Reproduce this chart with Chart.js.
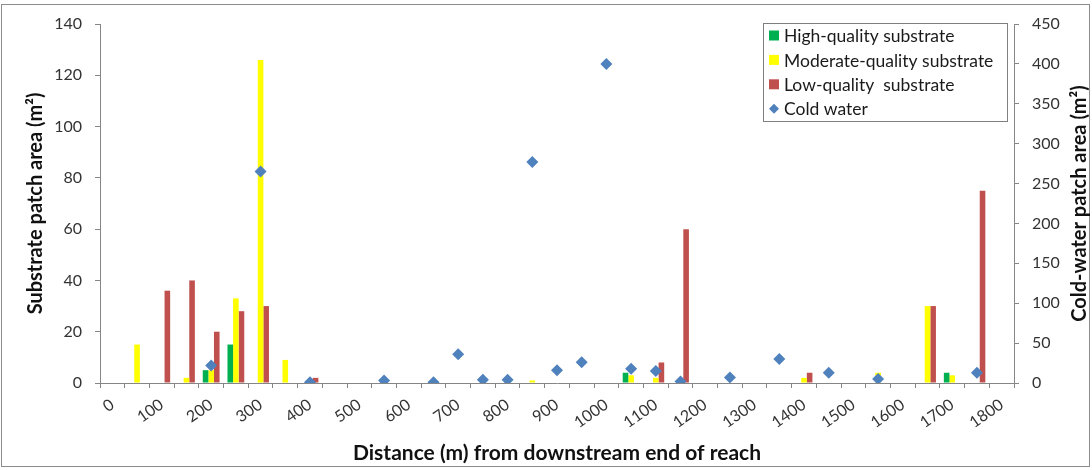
<!DOCTYPE html>
<html><head><meta charset="utf-8">
<script src="https://cdn.jsdelivr.net/npm/chart.js@4.4.1/dist/chart.umd.min.js"></script>
<style>html,body{margin:0;padding:0;background:#fff;}#wrap{width:1092px;height:470px;position:relative;}</style>
</head><body><div id="wrap"><canvas id="c" width="1092" height="470"></canvas></div>
<script>
// Distance categories (m), one every 50 m
const distances = [0,50,100,150,200,250,300,350,400,450,500,550,600,650,700,750,800,850,900,950,1000,1050,1100,1150,1200,1250,1300,1350,1400,1450,1500,1550,1600,1650,1700,1750,1800];
// Labels shown on the axis
const tickLabels = ['0','100','200','300','400','500','600','700','800','900','1000','1100','1200','1300','1400','1500','1600','1700','1800'];
// Substrate patch area (m²)
const highQuality =     [null,null,null,null,5,15,null,null,null,null,null,null,null,null,null,null,null,null,null,null,null,4,null,null,null,null,null,null,null,null,null,null,null,null,4,null,null];
const moderateQuality = [null,15,null,2,5,33,126,9,null,null,null,null,null,null,null,null,null,1,null,null,null,3,2,null,null,null,null,null,2,null,null,4,null,30,3,null,null];
const lowQuality =      [null,null,36,40,20,28,30,null,2,null,null,null,null,null,null,null,null,null,null,null,null,null,8,60,null,null,null,null,4,null,null,null,null,30,null,75,null];
// Cold-water patch area (m²)
const coldWater =       [null,null,null,null,22,null,265,null,1,null,null,3,null,1,36,4,4,277,16,26,400,18,15,2,null,7,null,30,null,13,null,5,null,null,null,13,null];
const seriesNames = ['High-quality substrate','Moderate-quality substrate','Low-quality  substrate','Cold water'];
const seriesColors = ['#00B050','#FFFF00','#C0504D','#4F81BD'];
const axisTitles = { x: 'Distance (m) from downstream end of reach', y: 'Substrate patch area (m²)', y2: 'Cold-water patch area (m²)' };

const FONT = 'Lato, "Open Sans", sans-serif';
Chart.defaults.font.family = FONT;
Chart.defaults.color = '#333333';

const frame = {
  id: 'frame',
  beforeDraw(chart) {
    const ctx = chart.ctx;
    ctx.save();
    ctx.fillStyle = '#fff';
    ctx.fillRect(0, 0, chart.width, chart.height);
    ctx.strokeStyle = '#8c8c8c';
    ctx.lineWidth = 1;
    ctx.strokeRect(1.5, 4.5, chart.width - 4, chart.height - 8);
    ctx.restore();
  }
};

// right-axis title reading bottom-to-top, as in the reference
const rightTitle = {
  id: 'rightTitle',
  afterDraw(chart) {
    const ctx = chart.ctx, a = chart.chartArea;
    ctx.save();
    ctx.translate(chart.width - 12, (a.top + a.bottom) / 2);
    ctx.rotate(-Math.PI / 2);
    ctx.font = 'bold 20px ' + FONT;
    ctx.fillStyle = '#111';
    ctx.textAlign = 'center';
    ctx.textBaseline = 'middle';
    ctx.fillText(axisTitles.y2, 0, 0);
    ctx.restore();
  }
};

const boxLegend = {
  id: 'boxLegend',
  afterDraw(chart) {
    const ctx = chart.ctx, a = chart.chartArea;
    const x0 = a.right - 251, y0 = a.top - 1, w = 244, h = 98;
    ctx.save();
    ctx.fillStyle = '#fff';
    ctx.fillRect(x0, y0, w, h);
    ctx.strokeStyle = '#7f7f7f';
    ctx.lineWidth = 1;
    ctx.strokeRect(x0 + 0.5, y0 + 0.5, w, h);
    ctx.font = '17.5px ' + FONT;
    ctx.textBaseline = 'middle';
    seriesNames.forEach((name, i) => {
      const cy = y0 + 12.5 + i * 24.4;
      ctx.fillStyle = seriesColors[i];
      if (i < 3) {
        ctx.fillRect(x0 + 6, cy - 5, 10, 10);
      } else {
        ctx.beginPath();
        ctx.moveTo(x0 + 6, cy); ctx.lineTo(x0 + 11, cy - 5); ctx.lineTo(x0 + 16, cy); ctx.lineTo(x0 + 11, cy + 5);
        ctx.closePath(); ctx.fill();
      }
      ctx.fillStyle = '#1a1a1a';
      ctx.fillText(name, x0 + 21, cy + 1);
    });
    ctx.restore();
  }
};

const axisGrey = '#868686';
new Chart(document.getElementById('c'), {
  type: 'bar',
  data: {
    labels: distances.map(String),
    datasets: [
      { label: seriesNames[0], data: highQuality, backgroundColor: seriesColors[0], yAxisID: 'y', order: 2 },
      { label: seriesNames[1], data: moderateQuality, backgroundColor: seriesColors[1], yAxisID: 'y', order: 2 },
      { label: seriesNames[2], data: lowQuality, backgroundColor: seriesColors[2], yAxisID: 'y', order: 2 },
      { type: 'line', label: seriesNames[3], data: coldWater, yAxisID: 'y2', showLine: false,
        pointStyle: 'rectRot', pointRadius: 6, pointHoverRadius: 6,
        backgroundColor: seriesColors[3], borderColor: seriesColors[3], pointBorderWidth: 0, order: 0 }
    ]
  },
  options: {
    responsive: false,
    animation: false,
    events: [],
    datasets: { bar: { categoryPercentage: 0.68, barPercentage: 1.0 } },
    layout: { padding: { left: 24, right: 2, top: 24, bottom: 4 } },
    plugins: { legend: { display: false }, tooltip: { enabled: false } },
    scales: {
      x: {
        offset: true,
        grid: { offset: true, drawOnChartArea: false, drawTicks: true, tickLength: 5, color: axisGrey },
        border: { color: axisGrey },
        ticks: {
          autoSkip: false, maxRotation: 35, minRotation: 35, padding: 7,
          font: { size: 16 }, color: '#333',
          callback: function(v) { const l = this.getLabelForValue(v); return tickLabels.includes(l) ? l : ''; }
        },
        title: { display: true, text: axisTitles.x, font: { size: 21, weight: 'bold' }, color: '#111', padding: 0 },
        afterFit(s) { s.height = 83; }
      },
      y: {
        position: 'left', min: 0, max: 140,
        grid: { drawOnChartArea: false, drawTicks: true, tickLength: 5, color: axisGrey },
        border: { color: axisGrey },
        ticks: { stepSize: 20, padding: 13, font: { size: 16 }, color: '#333' },
        title: { display: true, text: axisTitles.y, font: { size: 20, weight: 'bold' }, color: '#111', padding: 0 },
        afterFit(s) { s.width = 76; }
      },
      y2: {
        position: 'right', min: 0, max: 450,
        grid: { drawOnChartArea: false, drawTicks: true, tickLength: 5, color: axisGrey },
        border: { color: axisGrey },
        ticks: { stepSize: 50, padding: 13, font: { size: 16 }, color: '#333' },
        title: { display: false },
        afterFit(s) { s.width = 76; }
      }
    }
  },
  plugins: [frame, boxLegend, rightTitle]
});
</script></body></html>
